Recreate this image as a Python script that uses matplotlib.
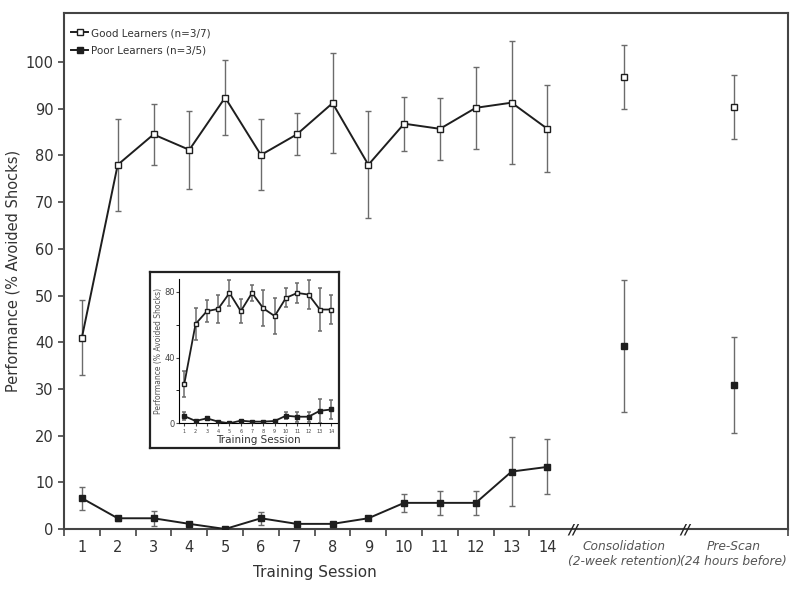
import numpy as np
import matplotlib
matplotlib.use("Agg")
import matplotlib.pyplot as plt

# ---- data ----
sessions = np.arange(1, 15)
extra_pos = [16.15, 19.2]
extra_labels = ["Consolidation\n(2-week retention)", "Pre-Scan\n(24 hours before)"]

good_mean = [41, 78, 84.5, 81.2, 92.4, 80.1, 84.5, 91.2, 78, 86.8, 85.7, 90.2, 91.3, 85.7]
good_err = [8.1, 9.8, 6.5, 8.3, 8.0, 7.6, 4.5, 10.7, 11.5, 5.8, 6.6, 8.8, 13.2, 9.3]
good_extra = [96.8, 90.4]
good_extra_err = [6.9, 6.8]

poor_mean = [6.6, 2.3, 2.3, 1.1, 0, 2.3, 1.1, 1.1, 2.3, 5.6, 5.6, 5.6, 12.3, 13.3]
poor_err = [2.5, 0.5, 1.6, 0.3, 0, 1.4, 0.2, 0.2, 0.4, 1.9, 2.6, 2.6, 7.3, 5.9]
poor_extra = [39.2, 30.8]
poor_extra_err = [14.1, 10.3]

# inset (original study)
ins_good = [24, 60.5, 68.3, 69.7, 79.4, 68.3, 79.4, 70, 65.3, 76.4, 79.4, 78.4, 69.3, 69.3]
ins_good_err = [8, 10, 6.5, 8.5, 7.8, 7.5, 4.8, 11, 11, 5.8, 6, 9, 13, 9]
ins_poor = [4.4, 1.4, 3, 1, 0, 1.6, 1, 1, 1.4, 4.6, 4, 4, 7.6, 8.4]
ins_poor_err = [2.5, 0.6, 0.8, 0.4, 0, 0.6, 0.4, 0.4, 0.6, 2, 3, 3, 7.4, 6]

line_c = "#1e1e1e"
err_c = "#6b6b6b"
txt_c = "#333333"

fig = plt.figure(figsize=(8, 5.92), dpi=100)
ax = fig.add_axes([0.08, 0.1064, 0.905, 0.8716])


def draw(a, x, y, e, face, ms, lw, cap, elw):
    a.errorbar(x, y, yerr=e, fmt="none", ecolor=err_c, elinewidth=elw, capsize=cap, capthick=elw, zorder=2)
    a.plot(x, y, "-s", color=line_c, lw=lw, ms=ms, mfc=face, mec=line_c, mew=1, zorder=3)


# main plot
draw(ax, sessions, good_mean, good_err, "white", 5, 1.4, 2.5, 1)
draw(ax, sessions, poor_mean, poor_err, line_c, 5, 1.4, 2.5, 1)
ax.errorbar(extra_pos, good_extra, yerr=good_extra_err, fmt="s", color=line_c, mfc="white",
            ms=5, mew=1, ecolor=err_c, elinewidth=1, capsize=2.5, zorder=3)
ax.errorbar(extra_pos, poor_extra, yerr=poor_extra_err, fmt="s", color=line_c, mfc=line_c,
            ms=5, mew=1, ecolor=err_c, elinewidth=1, capsize=2.5, zorder=3)

ax.set_xlim(0.5, 20.72)
ax.set_ylim(0, 110.5)
ax.set_yticks(np.arange(0, 101, 10))
ax.set_xticks(list(sessions) + extra_pos)
ax.set_xticklabels([str(s) for s in sessions] + extra_labels)
ax.tick_params(axis="x", which="major", length=0, pad=8, labelsize=10.5, labelcolor=txt_c)
ax.set_xticks(list(np.arange(0.5, 14, 1)) + [20.72], minor=True)
ax.tick_params(axis="x", which="minor", length=5, width=1.2, color="#444444", direction="out")
ax.tick_params(axis="y", length=4, width=1.2, color="#444444", labelsize=10.5, labelcolor=txt_c)
for lab in ax.get_xticklabels()[-2:]:
    lab.set_style("italic")
    lab.set_fontsize(8.8)
    lab.set_color("#555555")
for sp in ax.spines.values():
    sp.set_color("#444444")
    sp.set_linewidth(1.5)

# axis breaks
for bx in [14.72, 17.85]:
    ax.text(bx, 0, "//", ha="center", va="center", fontsize=10, fontweight="bold",
            style="italic", color="#222222", clip_on=False, zorder=5)

ax.text(7.5, -0.085, "Training Session", transform=ax.get_xaxis_transform(),
        ha="center", va="center", fontsize=11, color=txt_c)
ax.set_ylabel("Performance (% Avoided Shocks)", fontsize=10.5, color=txt_c, labelpad=4)

lh1, = ax.plot([], [], "-s", color=line_c, mfc="white", ms=5, lw=1.4)
lh2, = ax.plot([], [], "-s", color=line_c, mfc=line_c, ms=5, lw=1.4)
leg = ax.legend([lh1, lh2], ["Good Learners (n=3/7)", "Poor Learners (n=3/5)"], loc="upper left",
                bbox_to_anchor=(0.0, 0.985), frameon=False, fontsize=7.5, handlelength=1.6,
                handletextpad=0.3, borderaxespad=0.3, labelspacing=0.75)
for t in leg.get_texts():
    t.set_color(txt_c)

# inset frame
box = fig.add_axes([0.188, 0.2427, 0.236, 0.298])
box.set_xticks([])
box.set_yticks([])
for sp in box.spines.values():
    sp.set_linewidth(1.6)
    sp.set_color("#222222")
box.set_facecolor("white")
box.set_zorder(4)

ins = fig.add_axes([0.224, 0.285, 0.197, 0.244])
ins.set_zorder(5)
draw(ins, sessions, ins_good, ins_good_err, "white", 3.5, 1.3, 1.5, 1.1)
draw(ins, sessions, ins_poor, ins_poor_err, line_c, 3.5, 1.3, 1.5, 1.1)
ins.set_xlim(0.55, 14.5)
ins.set_ylim(0, 88)
ins.set_yticks([0, 40, 80])
ins.set_yticks([20, 60], minor=True)
ins.set_xticks(sessions)
ins.tick_params(axis="x", labelsize=3.5, length=2, pad=2, colors="#444444")
ins.tick_params(axis="y", labelsize=6, length=2, pad=1, colors="#444444")
ins.tick_params(axis="y", which="minor", length=2)
ins.spines["top"].set_visible(False)
ins.spines["right"].set_visible(False)
ins.set_xlabel("Training Session", fontsize=7.5, labelpad=1, color=txt_c)
ins.set_ylabel("Performance (% Avoided Shocks)", fontsize=5.5, labelpad=1, color="#555555")

fig.savefig("out.png", dpi=100)
